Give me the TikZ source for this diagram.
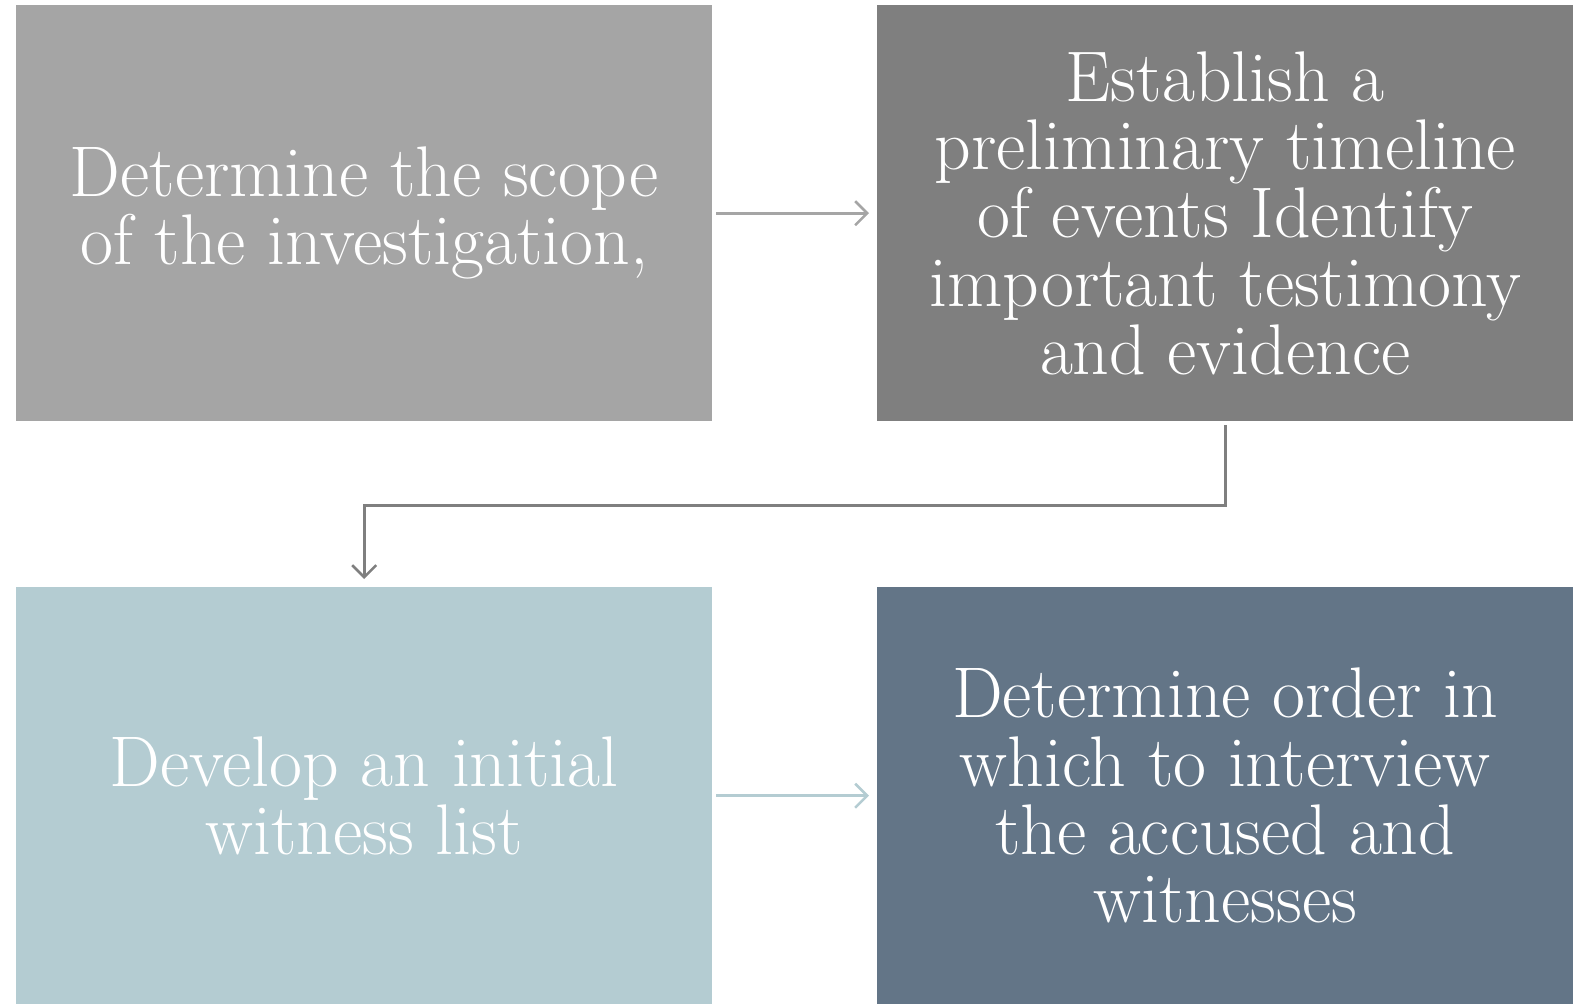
\documentclass[tikz,border=0pt]{standalone}
\usetikzlibrary{arrows.meta}
\definecolor{cA}{HTML}{A5A5A5}
\definecolor{cB}{HTML}{7F7F7F}
\definecolor{cC}{HTML}{B4CCD2}
\definecolor{cD}{HTML}{637587}
\tikzset{
  box/.style={anchor=north west, minimum width=696bp, minimum height=416bp, inner sep=0pt,
    text=white, align=center, font=\fontsize{72}{68.5}\selectfont},
  arr/.style={line width=2.6bp, -{Straight Barb[length=12bp,width=24bp,line width=2.6bp]}}
}
\begin{document}
\begin{tikzpicture}[x=1bp,y=-1bp]
\useasboundingbox (0,0) rectangle (1575,1004);
\node[box, fill=cA] (b1) at (16,5) {Determine the scope\\of the investigation,};
\node[box, fill=cB] (b2) at (877,5) {Establish a\\preliminary timeline\\of events Identify\\important testimony\\and evidence};
\node[box, fill=cC, minimum height=417bp] (b3) at (16,587) {Develop an initial\\witness list};
\node[box, fill=cD, minimum height=417bp] (b4) at (877,587) {Determine order in\\which to interview\\the accused and\\witnesses};
\draw[arr, cA, shorten <=4bp, shorten >=8bp] (b1.east) -- (b2.west |- b1.east);
\draw[arr, cB, shorten <=4bp, shorten >=8bp] (b2.south) -- ++(0,84) -| (b3.north);
\draw[arr, cC, shorten <=4bp, shorten >=8bp] (b3.east) -- (b4.west |- b3.east);
\end{tikzpicture}
\end{document}
